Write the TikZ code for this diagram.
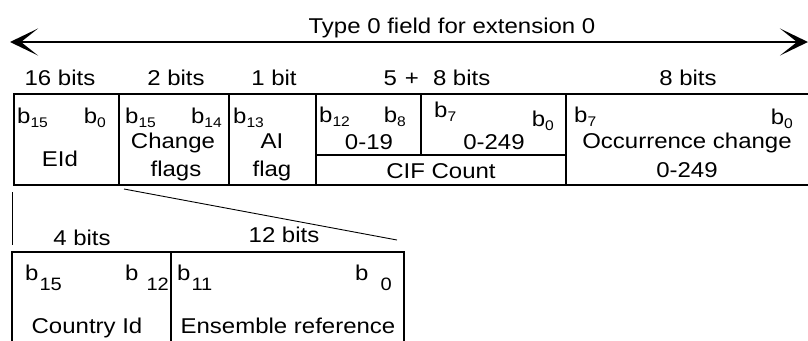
\documentclass[tikz,border=0pt]{standalone}
\usepackage{fontspec}
\setmainfont{Liberation Sans}[FakeStretch=1.12]
\usetikzlibrary{arrows.meta}
\newcommand{\bsub}[1]{b\raisebox{-0.22em}{\fontsize{14}{14}\selectfont #1}}
\newcommand{\bsubl}[2]{b\hspace{#2}\raisebox{-10bp}{\fontsize{18}{18}\selectfont #1}}
\begin{document}
\begin{tikzpicture}[x=1bp,y=-1bp,
  every node/.style={inner sep=0pt, font=\fontsize{21.5}{24}\selectfont},
  lbl/.style={anchor=base},
  lft/.style={anchor=base west},
  rgt/.style={anchor=base east},
  boxline/.style={line width=2bp},
  thinline/.style={line width=0.9bp}]
\useasboundingbox (0,0) rectangle (808,340);
% span arrow
\coordinate (aL) at (10,42);
\coordinate (aR) at (808,42);
\draw[line width=1.8bp, {Stealth[length=28bp,width=27bp,inset=17bp]}-{Stealth[length=28bp,width=27bp,inset=17bp]}] (aL) -- (aR);
\node[lbl] (title) at (452,33) {Type 0 field for extension 0};
% widths
\node[lbl] (w16) at (60,85) {16 bits};
\node[lbl] (w2) at (176,85) {2 bits};
\node[lbl] (w1) at (274,85) {1 bit};
\node[lbl] (w13) at (437,85) {5\hspace{8bp}+\hspace{14bp}8 bits};
\node[lbl] (w8) at (688,85) {8 bits};
% top box
\draw[boxline] (808,94) -- (14,94) -- (14,185) -- (808,185);
\draw[boxline] (119,94) -- (119,185);
\draw[boxline] (229,94) -- (229,185);
\draw[boxline] (316,94) -- (316,185);
\draw[boxline] (421,94) -- (421,155);
\draw[boxline] (566,94) -- (566,185);
\draw[boxline] (316,155) -- (566,155);
% EId
\node[lft] (e15) at (17,123) {\bsub{15}};
\node[rgt] (e0) at (106,123) {\bsub{0}};
\node[lbl] (eid) at (60,166) {EId};
% change flags
\node[lft] (c15) at (125,123) {\bsub{15}};
\node[rgt] (c14) at (222,123) {\bsub{14}};
\node[lbl] (chg) at (173,148) {Change};
\node[lbl] (flg) at (176,176) {flags};
% AI flag
\node[lft] (a13) at (233,123) {\bsub{13}};
\node[lbl] (ai) at (272,148) {AI};
\node[lbl] (aif) at (272,176) {flag};
% CIF count
\node[lft] (f12) at (319,122) {\bsub{12}};
\node[rgt] (f8) at (406,122) {\bsub{8}};
\node[lbl] (f19) at (369,149) {0-19};
\node[lft] (g7) at (434,117) {\bsub{7}};
\node[rgt] (g0) at (554,126) {\bsub{0}};
\node[lbl] (g249) at (494,149) {0-249};
\node[lbl] (cif) at (441,178) {CIF Count};
% occurrence change
\node[lft] (o7) at (574,122) {\bsub{7}};
\node[rgt] (o0) at (793,124) {\bsub{0}};
\node[lbl] (occ) at (687,148) {Occurrence change};
\node[lbl] (o249) at (687,177) {0-249};
% expansion lines
\coordinate (v1) at (12,192);
\coordinate (v2) at (12,245);
\draw[line width=1bp] (v1) -- (v2);
\coordinate (d1) at (124,189);
\coordinate (d2) at (397,240);
\draw[thinline] (d1) -- (d2);
% lower box
\node[lbl] (w4) at (82,245) {4 bits};
\node[lbl] (w12) at (284,242) {12 bits};
\draw[boxline] (12,342) -- (12,252) -- (404,252) -- (404,342);
\draw[boxline] (171,252) -- (171,342);
\node[lft] (l15) at (25,280) {\bsubl{15}{1bp}};
\node[lft] (l12) at (125,280) {\bsubl{12}{8bp}};
\node[lft] (l11) at (177,280) {\bsubl{11}{1bp}};
\node[lft] (l0) at (355,280) {\bsubl{0}{12bp}};
\node[lbl] (cid) at (87,333) {Country Id};
\node[lbl] (ens) at (288,333) {Ensemble reference};
\end{tikzpicture}
\end{document}
